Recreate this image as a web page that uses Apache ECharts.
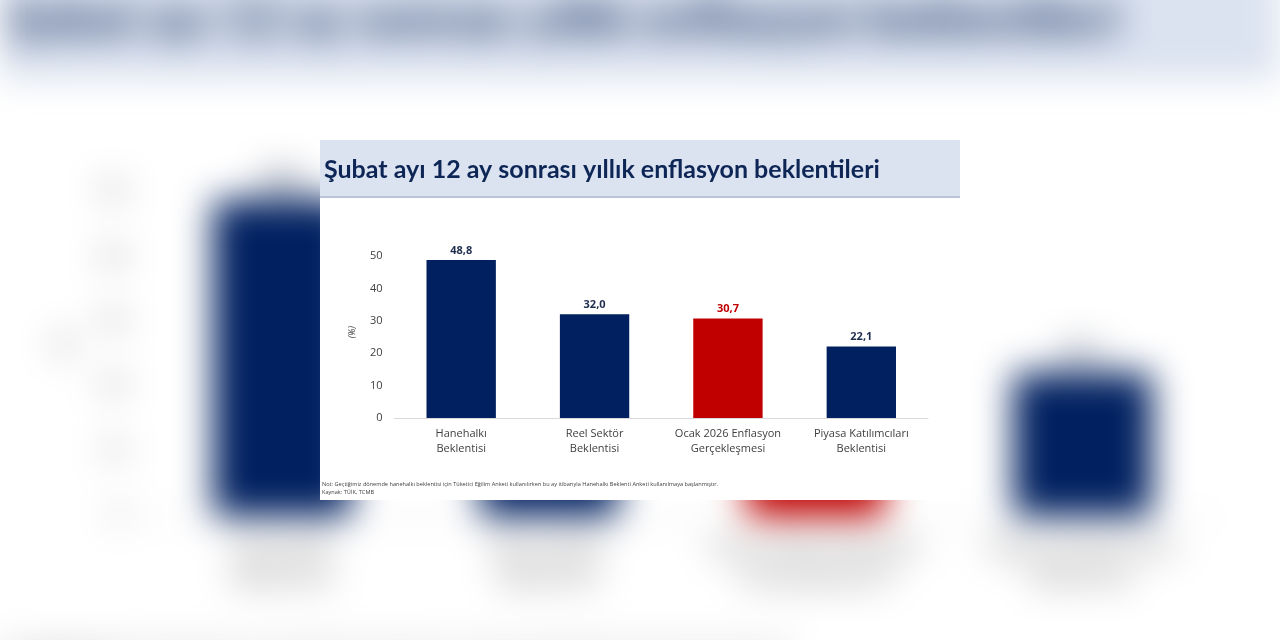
<!DOCTYPE html>
<html><head><meta charset="utf-8">
<script src="https://cdn.jsdelivr.net/npm/echarts@6/dist/echarts.min.js"></script>
<style>
html,body{margin:0;padding:0;background:#fff;width:1280px;height:640px;overflow:hidden}
#bg{position:absolute;left:320px;top:140px;width:640px;height:360px;transform:scale(2);transform-origin:50% 50%;filter:blur(9px);}
#main{position:absolute;left:320px;top:140px;width:640px;height:360px;}
</style></head><body>
<div id="bg"></div>
<div id="main"></div>
<script>
const titleText = 'Şubat ayı 12 ay sonrası yıllık enflasyon beklentileri';
const categories = ['Hanehalkı\nBeklentisi', 'Reel Sektör\nBeklentisi', 'Ocak 2026 Enflasyon\nGerçekleşmesi', 'Piyasa Katılımcıları\nBeklentisi'];
const values = [48.8, 32.0, 30.7, 22.1];
const highlight = [false, false, true, false];
const yTicks = [0, 10, 20, 30, 40, 50];
const noteText = 'Not: Geçtiğimiz dönemde hanehalkı beklentisi için Tüketici Eğilim Anketi kullanılırken bu ay itibarıyla Hanehalkı Beklenti Anketi kullanılmaya başlanmıştır.';
const sourceText = 'Kaynak: TÜİK, TCMB';

const NAVY = '#002060', RED = '#c00000';
function makeOption(){
  return {
    animation:false,
    backgroundColor:'#ffffff',
    textStyle:{fontFamily:'Lato, "Open Sans", sans-serif'},
    graphic:[
      {type:'rect',shape:{x:0,y:0,width:640,height:57},style:{fill:'#dbe3f1'},z:0},
      {type:'rect',shape:{x:0,y:56,width:640,height:2},style:{fill:'#b9c4d8'},z:0},
      {type:'text',left:4,top:17,style:{text:titleText,fill:'#0e2656',font:'bold 25px Lato, "Open Sans", sans-serif'},z:2},
      {type:'text',left:28,top:186,rotation:Math.PI/2,style:{text:'(%)',fill:'#404040',font:'italic 9px "Open Sans", sans-serif'}},
      {type:'text',left:2,top:341,style:{text:noteText,fill:'#404040',font:'5.6px "Open Sans", sans-serif'}},
      {type:'text',left:2,top:349,style:{text:sourceText,fill:'#404040',font:'5.6px "Open Sans", sans-serif'}}
    ],
    grid:{left:74.5,right:32,top:116,bottom:82},
    xAxis:{type:'category',data:categories,
      axisLine:{lineStyle:{color:'#d9d9d9',width:1}},axisTick:{show:false},
      axisLabel:{color:'#404040',fontSize:11,lineHeight:15,margin:8,interval:0,fontFamily:'"Open Sans", sans-serif'}},
    yAxis:{type:'value',min:0,max:50,interval:10,
      splitLine:{show:false},axisLine:{show:false},axisTick:{show:false},
      axisLabel:{color:'#404040',fontSize:11,margin:12,fontFamily:'"Open Sans", sans-serif'}},
    series:[{type:'bar',barWidth:'52%',
      data:values.map((v,i)=>({value:v,itemStyle:{color:highlight[i]?RED:NAVY},
        label:{color:highlight[i]?RED:'#1f2d4d'}})),
      label:{show:true,position:'top',distance:4,fontWeight:'bold',fontSize:11,fontFamily:'"Open Sans", sans-serif',
        formatter:p=>p.value.toFixed(1).replace('.',',')}
    }]
  };
}
echarts.init(document.getElementById('bg')).setOption(makeOption());
echarts.init(document.getElementById('main')).setOption(makeOption());
</script>
</body></html>
